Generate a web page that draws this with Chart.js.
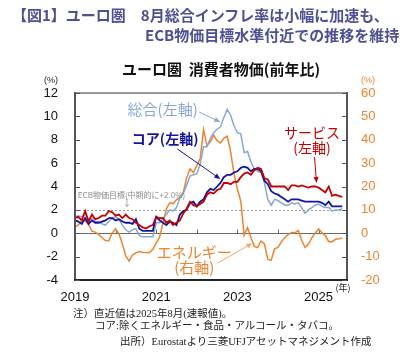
<!DOCTYPE html>
<html><head><meta charset="utf-8">
<script src="https://cdn.jsdelivr.net/npm/chart.js@4.4.1/dist/chart.umd.min.js"></script>
<style>
html,body{margin:0;padding:0;background:#fff;}
#wrap{position:relative;width:414px;height:356px;overflow:hidden;font-family:"Noto Sans CJK JP","Noto Sans",sans-serif;}
canvas{position:absolute;left:0;top:0;}
.t{position:absolute;white-space:nowrap;line-height:1;}
.title{color:#4D5093;font-weight:bold;font-size:15px;}
.note{font-family:"Liberation Serif","Noto Sans CJK JP",serif;font-size:10.5px;color:#222;}
</style></head>
<body><div id="wrap">
<canvas id="c" width="414" height="356"></canvas>
<div class="t title" style="left:12px;top:7px;">【図1】ユーロ圏　8月総合インフレ率は小幅に加速も、</div>
<div class="t title" style="left:145px;top:27px;">ECB物価目標水準付近での推移を維持</div>
<div class="t" style="left:121px;width:200px;text-align:center;top:61px;font-size:15px;font-weight:bold;color:#111;">ユーロ圏&nbsp;&nbsp;消費者物価(前年比)</div>
<div class="t note" style="left:73px;top:309px;">注）直近値は2025年8月(速報値)。</div>
<div class="t note" style="left:95px;top:321px;">コア:除くエネルギー・食品・アルコール・タバコ。</div>
<div class="t note" style="left:120px;top:337px;">出所）Eurostatより三菱UFJアセットマネジメント作成</div>
</div>
<script>
// ---- data (monthly, Jan 2019 – Aug 2025) ----
const startYear = 2019;
const monthCount = 80;
const categories = [];
for (let i = 0; i < monthCount; i++) {
  const y = startYear + Math.floor(i / 12), m = (i % 12) + 1;
  categories.push(y + '-' + String(m).padStart(2, '0'));
}
const headline = [1.4,1.5,1.4,1.7,1.2,1.3,1.0,1.0,0.8,0.7,1.0,1.3,
  1.4,1.2,0.7,0.3,0.1,0.3,0.4,-0.2,-0.3,-0.3,-0.3,-0.3,
  0.9,0.9,1.3,1.6,2.0,1.9,2.2,3.0,3.4,4.1,4.9,5.0,
  5.1,5.9,7.4,7.4,8.1,8.6,8.9,9.1,9.9,10.6,10.1,9.2,
  8.6,8.5,6.9,7.0,6.1,5.5,5.3,5.2,4.3,2.9,2.4,2.9,
  2.8,2.6,2.4,2.4,2.6,2.5,2.6,2.2,1.7,2.0,2.2,2.4,
  2.5,2.3,2.2,2.2,1.9,2.0,2.0,2.1];
const core = [1.1,1.0,0.8,1.3,0.8,1.1,0.9,0.9,1.0,1.1,1.3,1.3,
  1.1,1.2,1.0,0.9,0.9,0.8,1.2,0.4,0.2,0.2,0.2,0.2,
  1.4,1.1,0.9,0.7,1.0,0.9,0.7,1.6,1.9,2.0,2.6,2.7,
  2.3,2.7,2.9,3.5,3.8,3.7,4.0,4.3,4.8,5.0,5.0,5.2,
  5.3,5.6,5.7,5.6,5.3,5.5,5.5,5.3,4.5,4.2,3.6,3.4,
  3.3,3.1,2.9,2.7,2.9,2.9,2.9,2.8,2.7,2.7,2.7,2.7,
  2.7,2.6,2.4,2.7,2.3,2.3,2.3,2.3];
const services = [1.3,1.4,1.1,1.9,1.0,1.6,1.2,1.3,1.5,1.5,1.9,1.8,
  1.5,1.6,1.3,1.6,1.3,1.2,0.9,0.7,0.5,0.4,0.6,0.7,
  1.4,1.3,1.3,0.9,1.1,0.7,0.9,1.1,1.7,2.1,2.7,2.4,
  2.3,2.5,2.7,3.3,3.5,3.4,3.7,3.8,4.3,4.3,4.2,4.4,
  4.4,4.8,5.1,5.2,5.0,5.4,5.6,5.5,4.7,4.6,4.0,4.0,
  4.0,4.0,4.0,3.7,4.1,4.1,4.0,4.1,4.0,3.9,4.0,4.0,
  3.9,3.7,3.5,4.0,3.2,3.3,3.2,3.1];
const energy = [2.7,3.6,5.3,5.3,3.8,0.9,0.5,-0.6,-1.8,-3.1,-3.2,0.2,
  1.9,-0.3,-4.5,-9.7,-11.9,-9.3,-8.4,-7.8,-8.2,-8.2,-8.3,-6.9,
  -4.2,-1.7,4.3,10.4,13.1,12.6,14.3,15.4,17.6,23.7,27.5,26.0,
  28.8,32.0,44.3,37.5,39.1,42.0,39.6,38.6,40.7,41.5,34.9,25.5,
  18.9,13.7,-0.9,2.4,-1.8,-5.6,-6.1,-3.3,-4.6,-11.2,-11.5,-6.7,
  -6.1,-3.7,-1.8,-0.6,0.3,0.2,1.2,-3.0,-6.1,-4.6,-2.0,0.1,
  1.9,0.2,-1.0,-3.6,-3.6,-2.6,-2.4,-2.0];
const xTickYears = [2019, 2021, 2023, 2025];
const xTickLabels = ['2019', '2021', '2023', '2025'];
const leftTicks = [-4, -2, 0, 2, 4, 6, 8, 10, 12];
const rightTicks = [-20, -10, 0, 10, 20, 30, 40, 50, 60];
const ecbTarget = 2.0;

// ---- helpers ----
function toX(cat) { const [y, m] = cat.split('-').map(Number); return y + (m - 1) / 12; }
function pts(arr) { return arr.map((v, i) => ({ x: toX(categories[i]), y: v })); }

const C_HEAD = '#89A7D6', C_CORE = '#1414A0', C_SERV = '#C40000', C_ENER = '#EC8430';
const JP = '"Noto Sans CJK JP", sans-serif';

// annotations in data coordinates (left axis units)
const labels = [
  { text: '総合(左軸)', x: 2021.16, y: 10.63, color: C_HEAD, font: '15px ' + JP },
  { text: 'コア(左軸)', x: 2021.22, y: 8.06, color: C_CORE, font: 'bold 14px ' + JP },
  { text: 'サービス', x: 2024.84, y: 8.58, color: C_SERV, font: '14px ' + JP },
  { text: '(左軸)', x: 2024.84, y: 7.29, color: C_SERV, font: '14px ' + JP },
  { text: 'エネルギー', x: 2021.94, y: -1.62, color: C_ENER, font: '15px ' + JP },
  { text: '(右軸)', x: 2021.94, y: -2.89, color: C_ENER, font: '15px ' + JP }
];
const arrows = [
  { from: [2022.06, 10.37], to: [2022.58, 9.52], color: C_HEAD },
  { from: [2021.52, 7.21], to: [2022.58, 4.64], color: C_CORE },
  { from: [2024.90, 6.52], to: [2024.95, 4.30], color: C_SERV },
  { from: [2022.51, -2.56], to: [2023.37, -0.85], color: '#F2A868' }
];

const deco = {
  id: 'deco',
  beforeDatasetsDraw(chart) {
    const { ctx, chartArea: a, scales: { x, y } } = chart;
    ctx.save();
    ctx.strokeStyle = '#9a9a9a'; ctx.lineWidth = 1; ctx.setLineDash([2, 2]);
    const y2p = Math.round(y.getPixelForValue(ecbTarget)) + 0.5;
    ctx.beginPath(); ctx.moveTo(a.left, y2p); ctx.lineTo(a.right, y2p); ctx.stroke();
    ctx.setLineDash([]);
    const y0 = Math.round(y.getPixelForValue(0)) + 0.5;
    ctx.strokeStyle = '#6a6a6a';
    ctx.beginPath(); ctx.moveTo(a.left, y0); ctx.lineTo(a.right, y0); ctx.stroke();
    for (let yr = 2020; yr <= 2025; yr++) {
      const px = Math.round(x.getPixelForValue(yr)) + 0.5;
      ctx.beginPath(); ctx.moveTo(px, y0); ctx.lineTo(px, y0 - 4); ctx.stroke();
    }
    ctx.restore();
  },
  afterDatasetsDraw(chart) {
    const { ctx, chartArea: a, scales: { x, y, y2 } } = chart;
    ctx.save();
    ctx.lineWidth = 2;
    ctx.strokeStyle = '#999';
    ctx.beginPath(); ctx.moveTo(a.left, a.top); ctx.lineTo(a.right, a.top); ctx.stroke();
    ctx.strokeStyle = '#555';
    ctx.beginPath(); ctx.moveTo(a.right, a.top - 1); ctx.lineTo(a.right, a.bottom + 1); ctx.stroke();
    ctx.beginPath(); ctx.moveTo(a.left, a.top - 1); ctx.lineTo(a.left, a.bottom + 1); ctx.stroke();
    ctx.strokeStyle = '#222';
    ctx.beginPath(); ctx.moveTo(a.left - 1, a.bottom); ctx.lineTo(a.right + 1, a.bottom); ctx.stroke();
    ctx.lineWidth = 1; ctx.strokeStyle = '#555';
    leftTicks.forEach(v => {
      const py = Math.round(y.getPixelForValue(v)) + 0.5;
      ctx.beginPath(); ctx.moveTo(a.left, py); ctx.lineTo(a.left + 5, py); ctx.stroke();
    });
    rightTicks.forEach(v => {
      const py = Math.round(y2.getPixelForValue(v)) + 0.5;
      ctx.beginPath(); ctx.moveTo(a.right, py); ctx.lineTo(a.right - 5, py); ctx.stroke();
    });
    ctx.fillStyle = '#8a8a8a'; ctx.font = '8px ' + JP;
    ctx.textAlign = 'left'; ctx.textBaseline = 'middle';
    ctx.fillText('ECB物価目標(中期的に+2.0%)', x.getPixelForValue(2019.07), y.getPixelForValue(3.27));
    ctx.textAlign = 'center'; ctx.font = '9px ' + JP;
    ctx.fillText('↓', x.getPixelForValue(2020.28), y.getPixelForValue(2.62));
    labels.forEach(l => {
      ctx.fillStyle = l.color; ctx.font = l.font;
      ctx.textAlign = 'center'; ctx.textBaseline = 'middle';
      ctx.fillText(l.text, x.getPixelForValue(l.x), y.getPixelForValue(l.y));
    });
    arrows.forEach(ar => {
      const x1 = x.getPixelForValue(ar.from[0]), y1 = y.getPixelForValue(ar.from[1]);
      const x2 = x.getPixelForValue(ar.to[0]), y2p = y.getPixelForValue(ar.to[1]);
      const ang = Math.atan2(y2p - y1, x2 - x1);
      ctx.strokeStyle = ar.color; ctx.fillStyle = ar.color; ctx.lineWidth = 1;
      ctx.beginPath(); ctx.moveTo(x1, y1); ctx.lineTo(x2 - 4 * Math.cos(ang), y2p - 4 * Math.sin(ang)); ctx.stroke();
      ctx.beginPath();
      ctx.moveTo(x2, y2p);
      ctx.lineTo(x2 - 6 * Math.cos(ang) + 2.5 * Math.sin(ang), y2p - 6 * Math.sin(ang) - 2.5 * Math.cos(ang));
      ctx.lineTo(x2 - 6 * Math.cos(ang) - 2.5 * Math.sin(ang), y2p - 6 * Math.sin(ang) + 2.5 * Math.cos(ang));
      ctx.closePath(); ctx.fill();
    });
    ctx.font = '9px "Liberation Sans", sans-serif'; ctx.textAlign = 'center'; ctx.textBaseline = 'middle';
    ctx.fillStyle = '#222';
    ctx.fillText('(%)', 51, a.top - 12);
    ctx.fillStyle = C_ENER;
    ctx.fillText('(%)', a.right + 21, a.top - 12);
    ctx.fillStyle = '#222'; ctx.font = '9px ' + JP;
    ctx.fillText('(年)', a.right - 4, a.bottom + 8);
    ctx.restore();
  }
};

const lineDs = (label, data, color, axis, w) => ({
  label, data: pts(data), borderColor: color, backgroundColor: color,
  borderWidth: w, pointRadius: 0, tension: 0, yAxisID: axis, fill: false
});

new Chart(document.getElementById('c'), {
  type: 'line',
  data: {
    datasets: [
      lineDs('サービス', services, C_SERV, 'y', 1.8),
      lineDs('コア', core, C_CORE, 'y', 1.8),
      lineDs('総合', headline, C_HEAD, 'y', 1.5),
      lineDs('エネルギー', energy, C_ENER, 'y2', 1.5)
    ]
  },
  options: {
    responsive: false, animation: false, devicePixelRatio: 1,
    layout: { padding: { top: 93, bottom: 46, left: 0, right: 0 } },
    plugins: { legend: { display: false }, tooltip: { enabled: false }, title: { display: false } },
    scales: {
      x: {
        type: 'linear', min: 2019, max: 2025.7, position: 'bottom',
        grid: { display: false, drawTicks: false }, border: { display: false },
        afterBuildTicks: s => { s.ticks = xTickYears.map(v => ({ value: v })); },
        afterFit: s => { s.height = 30; },
        ticks: {
          padding: 10, color: '#111', font: { size: 13, family: '"Liberation Sans", sans-serif' },
          maxRotation: 0, autoSkip: false,
          callback: v => { const i = xTickYears.indexOf(v); return i >= 0 ? xTickLabels[i] : ''; }
        }
      },
      y: {
        position: 'left', min: -4, max: 12,
        grid: { display: false, drawTicks: false }, border: { display: false },
        afterBuildTicks: s => { s.ticks = leftTicks.map(v => ({ value: v })); },
        afterFit: s => { s.width = 75; },
        ticks: { padding: 17, color: '#111', font: { size: 13, family: '"Liberation Sans", sans-serif' } }
      },
      y2: {
        position: 'right', min: -20, max: 60,
        grid: { display: false, drawTicks: false }, border: { display: false },
        afterBuildTicks: s => { s.ticks = rightTicks.map(v => ({ value: v })); },
        afterFit: s => { s.width = 67; },
        ticks: { padding: 14, color: C_ENER, font: { size: 13, family: '"Liberation Sans", sans-serif' } }
      }
    }
  },
  plugins: [deco]
});
</script>
</body></html>
